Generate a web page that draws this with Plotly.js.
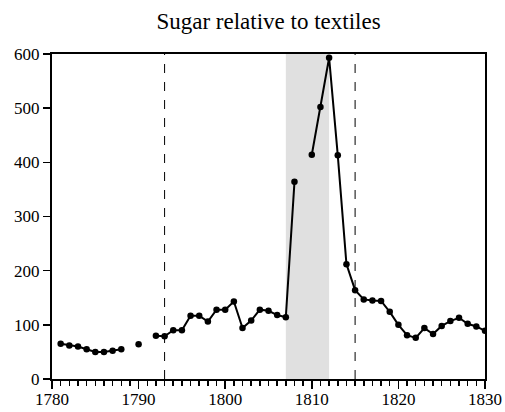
<!DOCTYPE html>
<html>
<head>
<meta charset="utf-8">
<script src="https://cdn.plot.ly/plotly-3.0.1.min.js"></script>
<style>html,body{margin:0;padding:0;background:#fff;}#chart{width:505px;height:412px;}</style>
</head>
<body>
<div id="chart"></div>
<script>
var years = [1781,1782,1783,1784,1785,1786,1787,1788,1789,1790,
             1791,1792,1793,1794,1795,1796,1797,1798,1799,1800,
             1801,1802,1803,1804,1805,1806,1807,1808,1809,1810,
             1811,1812,1813,1814,1815,1816,1817,1818,1819,1820,
             1821,1822,1823,1824,1825,1826,1827,1828,1829,1830];
var sugarRatio = [65,62,60,55,50,50,52,55,null,64,
                  null,80,79,90,90,117,117,106,128,128,
                  143,94,108,128,126,118,114,364,null,414,
                  502,593,413,212,164,147,145,144,124,100,
                  81,76,94,83,98,107,113,102,97,89];
var shadeStart = 1807, shadeEnd = 1812;
var markLines = [1793, 1815];
var titleText = 'Sugar relative to textiles';

var serif = 'Liberation Serif, DejaVu Serif, serif';

var shapes = [{
  type: 'rect', xref: 'x', yref: 'paper',
  x0: shadeStart, x1: shadeEnd, y0: 0, y1: 1,
  fillcolor: '#e0e0e0', line: {width: 0}, layer: 'below'
}];
markLines.forEach(function (yr) {
  shapes.push({
    type: 'line', xref: 'x', yref: 'paper',
    x0: yr, x1: yr, y0: 0, y1: 1,
    line: {color: '#000', width: 1, dash: 'dash'}, layer: 'above'
  });
});

var trace = {
  x: years, y: sugarRatio, type: 'scatter', mode: 'lines+markers',
  connectgaps: false,
  line: {color: '#000', width: 2},
  marker: {color: '#000', size: 6.5},
  hoverinfo: 'x+y'
};

var layout = {
  width: 505, height: 412,
  margin: {l: 52, r: 20, t: 54, b: 33, pad: 0},
  paper_bgcolor: '#fff', plot_bgcolor: '#fff',
  showlegend: false,
  font: {family: serif, size: 17, color: '#000'},
  title: {text: titleText, font: {family: serif, size: 23, color: '#000'},
          x: 0.5, xref: 'paper', xanchor: 'center', y: 0.948, yanchor: 'middle', yref: 'container'},
  xaxis: {
    range: [1780, 1830], tickmode: 'linear', tick0: 1780, dtick: 10,
    showgrid: false, zeroline: false,
    showline: true, linecolor: '#000', linewidth: 2, mirror: true,
    ticks: 'outside', ticklen: 8, tickwidth: 1.5, tickcolor: '#000',
    minor: {dtick: 1, ticks: 'outside', ticklen: 5, tickwidth: 1.5, tickcolor: '#000', showgrid: false},
    ticklabelstandoff: -4,
    tickfont: {family: serif, size: 17, color: '#000'}
  },
  yaxis: {
    range: [0, 600], tickmode: 'linear', tick0: 0, dtick: 100,
    showgrid: false, zeroline: false,
    showline: true, linecolor: '#000', linewidth: 2, mirror: true,
    ticks: 'outside', ticklen: 7, tickwidth: 1.5, tickcolor: '#000',
    ticklabelstandoff: 0,
    tickfont: {family: serif, size: 17, color: '#000'}
  },
  shapes: shapes
};

Plotly.newPlot('chart', [trace], layout, {displayModeBar: false, staticPlot: true});
</script>
</body>
</html>
